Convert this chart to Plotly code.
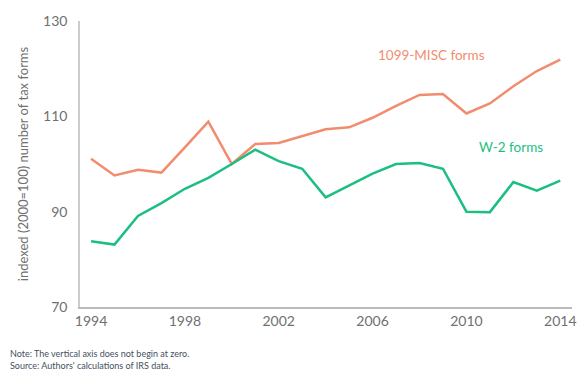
import plotly.graph_objects as go

years = list(range(1994, 2015))
misc_1099 = [101.1, 97.6, 98.8, 98.2, 103.5, 108.9, 100.0, 104.2, 104.4, 105.8, 107.3,
             107.7, 109.7, 112.2, 114.5, 114.7, 110.6, 112.7, 116.3, 119.5, 121.9]
w2 = [83.8, 83.1, 89.1, 91.8, 94.8, 97.1, 100.0, 103.0, 100.6, 99.0, 93.0,
      95.5, 98.0, 100.0, 100.2, 99.0, 90.0, 89.9, 96.2, 94.4, 96.5]
x_ticks = [1994, 1998, 2002, 2006, 2010, 2014]
y_ticks = [70, 90, 110, 130]

ORANGE = "#F28C6E"
GREEN = "#1DBE82"
FONT = "Lato"
GREY = "#707070"

fig = go.Figure()
fig.add_trace(go.Scatter(x=years, y=misc_1099, mode="lines",
                         line=dict(color=ORANGE, width=2.5), name="1099-MISC forms"))
fig.add_trace(go.Scatter(x=years, y=w2, mode="lines",
                         line=dict(color=GREEN, width=2.5), name="W-2 forms"))

fig.add_annotation(x=2008.5, y=122.8, text="1099-MISC forms", showarrow=False,
                   font=dict(family=FONT, size=13.5, color=ORANGE))
fig.add_annotation(x=2011.9, y=103.6, text="W-2 forms", showarrow=False,
                   font=dict(family=FONT, size=13.5, color=GREEN))

fig.add_annotation(xref="paper", yref="paper", x=-0.147, y=-0.135, xanchor="left", yanchor="top",
                   align="left", showarrow=False,
                   text="Note: The vertical axis does not begin at zero.<br>Source: Authors' calculations of IRS data.",
                   font=dict(family=FONT, size=9, color="#44505f"))

fig.update_layout(
    width=588, height=387,
    margin=dict(l=80, r=15, t=17, b=80),
    paper_bgcolor="white", plot_bgcolor="white",
    showlegend=False,
    font=dict(family=FONT, color=GREY),
)
fig.update_xaxes(range=[1993.53, 2014.5], tickvals=x_ticks, showgrid=False, zeroline=False,
                 showline=True, linecolor="#bbbbbb", linewidth=1.5, ticks="",
                 tickfont=dict(size=14, color=GREY))
fig.update_yaxes(range=[70, 130], tickvals=y_ticks, showgrid=False, zeroline=False,
                 showline=True, linecolor="#cccccc", linewidth=1.5, ticks="",
                 tickfont=dict(size=14, color=GREY), ticklabelstandoff=8,
                 title=dict(text="indexed (2000=100) number of tax forms", standoff=12,
                            font=dict(size=13, color=GREY)))

fig.write_html("out.html", config={"displayModeBar": False},
               post_script="document.body.style.margin='0';")
